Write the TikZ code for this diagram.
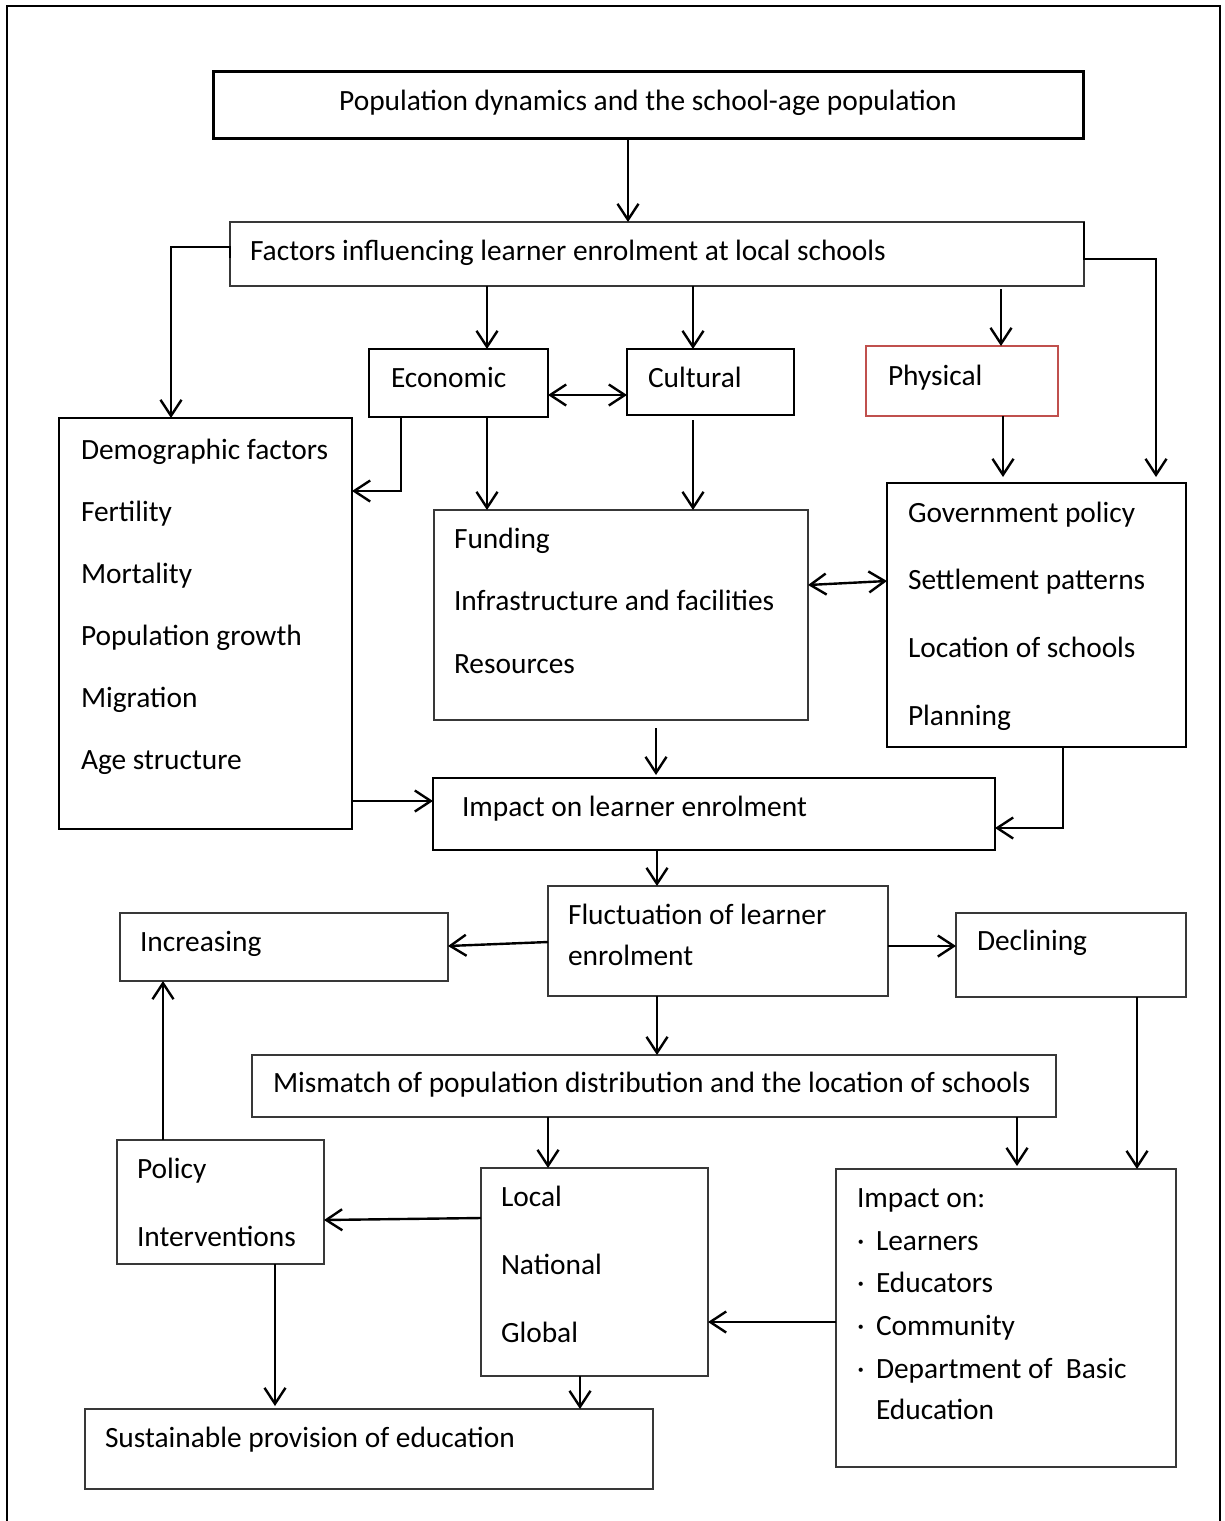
\documentclass[tikz,border=0pt]{standalone}
\usepackage{fontspec}
\setmainfont{Carlito}
\usetikzlibrary{arrows.meta}
\begin{document}
\begin{tikzpicture}[x=1pt,y=-1pt,
  every node/.style={inner sep=0pt, outer sep=0pt},
  thinbox/.style={draw=black!78, line width=1.4pt, anchor=north west},
  boldbox/.style={draw=black, line width=2.6pt, anchor=north west},
  redbox/.style={draw={rgb,255:red,192;green,80;blue,77}, line width=1.5pt, anchor=north west},
  txt/.style={anchor=base west, font=\fontsize{29.4}{35}\selectfont},
  arr/.style={draw=black, line width=2.4pt, -{Straight Barb[length=16pt,width=21pt]}},
  darr/.style={draw=black, line width=2.4pt, {Straight Barb[length=16pt,width=21pt]}-{Straight Barb[length=16pt,width=21pt]}},
  conn/.style={draw=black, line width=2.4pt}]
\useasboundingbox (0,0) rectangle (1224,1521);
\fill[white] (0,0) rectangle (1224,1521);

% page frame (open at the bottom)
\draw[line width=2.8pt] (7,1521) -- (7,6) -- (1220,6) -- (1220,1521);

% boxes
\node[boldbox, line width=3pt, minimum width=870pt, minimum height=67pt] (top) at (213,71) {};
\node[thinbox, minimum width=854pt, minimum height=64pt] (fac) at (230,222) {};
\node[boldbox, line width=2.2pt, minimum width=179pt, minimum height=68pt] (eco) at (369,349) {};
\node[boldbox, line width=2pt, minimum width=167pt, minimum height=66pt] (cul) at (627,349) {};
\node[redbox, minimum width=192pt, minimum height=70pt] (phy) at (866,346) {};
\node[boldbox, line width=2.8pt, minimum width=293pt, minimum height=411pt] (dem) at (59,418) {};
\node[thinbox, minimum width=374pt, minimum height=210pt] (fun) at (434,510) {};
\node[boldbox, line width=2.4pt, minimum width=299pt, minimum height=264pt] (gov) at (887,483) {};
\node[boldbox, line width=2.2pt, minimum width=562pt, minimum height=72pt] (imp) at (433,778) {};
\node[thinbox, minimum width=340pt, minimum height=110pt] (flu) at (548,886) {};
\node[thinbox, minimum width=328pt, minimum height=68pt] (inc) at (120,913) {};
\node[thinbox, minimum width=230pt, minimum height=84pt] (dec) at (956,913) {};
\node[thinbox, minimum width=804pt, minimum height=62pt] (mis) at (252,1055) {};
\node[thinbox, minimum width=207pt, minimum height=124pt] (pol) at (117,1140) {};
\node[thinbox, minimum width=227pt, minimum height=208pt] (loc) at (481,1168) {};
\node[thinbox, minimum width=340pt, minimum height=298pt] (ion) at (836,1169) {};
\node[thinbox, minimum width=568pt, minimum height=80pt] (sus) at (85,1409) {};

% texts
\node[txt, anchor=base] (ttop) at (648,110) {Population dynamics and the school-age population};
\node[txt] (tfac) at (250,260) {Factors influencing learner enrolment at local schools};
\node[txt] (teco) at (391,387) {Economic};
\node[txt] (tcul) at (648,387) {Cultural};
\node[txt] (tphy) at (888,385) {Physical};
\foreach \t [count=\i] in {Demographic factors, Fertility, Mortality, Population growth, Migration, Age structure}
  \node[txt] (tdem\i) at (81,{459+62*(\i-1)}) {\t};
\foreach \t [count=\i] in {Funding, Infrastructure and facilities, Resources}
  \node[txt] (tfun\i) at (454,{548+62.5*(\i-1)}) {\t};
\foreach \t [count=\i] in {Government policy, Settlement patterns, Location of schools, Planning}
  \node[txt] (tgov\i) at (908,{522+67.7*(\i-1)}) {\t};
\node[txt] (timp) at (462,816) {Impact on learner enrolment};
\node[txt] (tflu1) at (568,924) {Fluctuation of learner};
\node[txt] (tflu2) at (568,965) {enrolment};
\node[txt] (tinc) at (140,951) {Increasing};
\node[txt] (tdec) at (977,950) {Declining};
\node[txt] (tmis) at (273,1092) {Mismatch of population distribution and the location of schools};
\node[txt] (tpol1) at (137,1178) {Policy};
\node[txt] (tpol2) at (137,1246) {Interventions};
\foreach \t [count=\i] in {Local, National, Global}
  \node[txt] (tloc\i) at (501,{1206+68*(\i-1)}) {\t};
\node[txt] (tion) at (857,1207) {Impact on:};
\foreach \t [count=\i] in {Learners, Educators, Community, Department of\ \ Basic}{
  \node[txt] (bion\i) at (857,{1250+42.7*(\i-1)}) {\textperiodcentered};
  \node[txt] (tion\i) at (876,{1250+42.7*(\i-1)}) {\t};
}
\node[txt] (tion5) at (876,1419) {Education};
\node[txt] (tsus) at (105,1447) {Sustainable provision of education};

% connectors
\draw[arr] (top.south -| 628,0) -- (fac.north -| 628,0);
\draw[arr] (fac.west |- 0,258) -- (fac.west |- 0,247) -| (dem.north -| 171,0);
\draw[arr] (fac.south -| 487,0) -- (eco.north -| 487,0);
\draw[arr] (fac.south -| 693,0) -- (cul.north -| 693,0);
\draw[arr, shorten <=3pt] (fac.south -| 1001,0) -- (phy.north -| 1001,0);
\draw[arr, shorten >=6pt] (fac.north east) -- (fac.east |- 0,259) -| (gov.north -| 1156,0);
\draw[darr] (eco.east |- 0,395) -- (cul.west |- 0,395);
\draw[arr] (eco.south -| 449,0) -- (eco.south -| 401,0) |- (dem.east |- 0,491);
\draw[arr] (eco.south -| 487,0) -- (fun.north -| 487,0);
\draw[arr, shorten <=5pt] (cul.south -| 693,0) -- (fun.north -| 693,0);
\draw[arr, shorten >=6pt] (phy.south -| 1003,0) -- (gov.north -| 1003,0);
\draw[darr] (fun.east |- 0,585) -- (gov.west |- 0,581);
\draw[arr, shorten <=8pt, shorten >=3pt] (fun.south -| 656,0) -- (imp.north -| 656,0);
\draw[arr] (dem.east |- 0,801) -- (imp.west |- 0,801);
\draw[arr] (gov.south -| 1133,0) -- (gov.south -| 1063,0) |- (imp.east |- 0,828);
\draw[arr] (imp.south -| 657,0) -- (flu.north -| 657,0);
\draw[arr] (flu.west |- 0,942) -- (inc.east |- 0,946);
\draw[arr] (flu.east |- 0,946) -- (dec.west |- 0,946);
\draw[arr] (flu.south -| 657,0) -- (mis.north -| 657,0);
\draw[arr] (dec.south -| 1137,0) -- (ion.north -| 1137,0);
\draw[arr] (mis.south -| 548,0) -- (loc.north -| 548,0);
\draw[arr, shorten >=3pt] (mis.south -| 1017,0) -- (ion.north -| 1017,0);
\draw[arr] (ion.west |- 0,1322) -- (loc.east |- 0,1322);
\draw[arr] (loc.west |- 0,1218) -- (pol.east |- 0,1220);
\draw[arr] (pol.north -| 163,0) -- (inc.south -| 163,0);
\draw[arr, shorten >=3pt] (pol.south -| 275,0) -- (sus.north -| 275,0);
\draw[arr] (loc.south -| 580,0) -- (sus.north -| 580,0);
\end{tikzpicture}
\end{document}
